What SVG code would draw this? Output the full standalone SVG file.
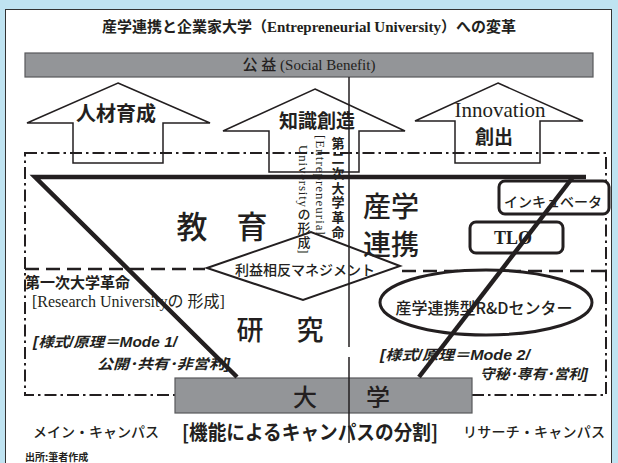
<svg xmlns="http://www.w3.org/2000/svg" width="618" height="463" viewBox="0 0 618 463">
<style>
.jp{font-family:"Noto Sans CJK JP","Noto Sans",sans-serif;fill:#231f20}
.mix{font-family:"Liberation Serif","Noto Sans CJK JP",serif;fill:#231f20}
.sans{font-family:"Liberation Sans","Noto Sans CJK JP",sans-serif;fill:#231f20}
.c{text-anchor:middle;dominant-baseline:central}
.l{dominant-baseline:central}
.vt{writing-mode:vertical-rl}
.b{font-weight:bold}
.m{font-weight:500}
.blk{fill:#fff;stroke:#231f20;stroke-width:1.5}
.thick{fill:none;stroke:#231f20;stroke-width:4.5}
.thin{fill:none;stroke:#231f20;stroke-width:1.5}
.dd{fill:none;stroke:#231f20;stroke-width:2;stroke-dasharray:12 4 2.5 4}
.dash{fill:none;stroke:#231f20;stroke-width:2.5;stroke-dasharray:14 7}
.rbox{fill:#fff;stroke:#231f20;stroke-width:3}
.gray{fill:#939598;stroke:#58595b;stroke-width:1.2}
.mode{font-style:italic;font-weight:bold;font-size:14px}
</style>
<rect width="618" height="463" fill="#bfe3f1"/>
<rect x="5.5" y="9.5" width="606" height="460" fill="#fff" stroke="#333" stroke-width="1"/>

<g id="title">
<text class="mix c b" x="309" y="26.5" font-size="15">産学連携と企業家大学（Entrepreneurial University）への変革</text>
</g>

<g id="social-benefit">
<rect class="gray" x="25" y="53" width="568" height="24"/>
<text class="mix c m" x="309" y="65" font-size="15">公 益 (Social Benefit)</text>
</g>

<g id="arrow-jinzai">
<path class="blk" d="M118,83 L210,123 L163,123 L163,163 L73,163 L73,123 L27,123 Z"/>
<text class="jp c b" x="116" y="112" font-size="20">人材育成</text>
</g>

<g id="arrow-chishiki">
<path class="blk" d="M315,89 L405,131 L359,131 L359,172 L269,172 L269,131 L223,131 Z"/>
<text class="jp c b" x="317" y="119" font-size="19">知識創造</text>
</g>

<g id="arrow-innovation">
<path class="blk" d="M498,83 L583,121 L540,121 L540,163 L455,163 L455,121 L415,121 Z"/>
<text class="mix c" x="500" y="110" font-size="21">Innovation</text>
<text class="jp c b" x="494" y="135" font-size="19">創出</text>
</g>

<g id="connectors">
<rect class="dd" x="25" y="153" width="581" height="242"/>
<path class="dash" d="M25,269 L205,269"/>
<path class="dash" d="M402,271 L606,271"/>
</g>

<g id="daigaku">
<rect class="gray" x="175" y="378" width="297" height="35"/>
<text class="jp c m" x="305" y="395" font-size="24">大</text>
<text class="jp c m" x="378" y="395" font-size="24">学</text>
</g>

<g id="incubator">
<rect class="rbox" x="499" y="181" width="110" height="33" rx="6"/>
<text class="jp c m" x="553" y="201" font-size="14">インキュベータ</text>
</g>

<g id="tlo">
<rect class="rbox" x="470" y="222" width="93" height="31" rx="6"/>
<text class="mix c b" x="513" y="238" font-size="18">TLO</text>
</g>

<g id="rd-center">
<ellipse class="rbox" cx="486" cy="302.5" rx="106" ry="32.5"/>
<text class="jp c m" x="484" y="306.5" font-size="16">産学連携型R&amp;Dセンター</text>
</g>

<g id="conflict">
<polygon points="207,268 311,232 400,266 303,300" fill="#fff" stroke="#231f20" stroke-width="2"/>
<text class="jp c m" x="305" y="268.5" font-size="14">利益相反マネジメント</text>
</g>

<g id="second-revolution">
<text class="jp vt b" x="338" y="137" font-size="13" letter-spacing="1.7">第二次大学革命</text>
<text class="mix vt m" x="320" y="135" font-size="13" letter-spacing="1">[Entrepreneurial</text>
<text class="mix vt m" x="303" y="145" font-size="13" letter-spacing="0.8">Universityの形成]</text>
</g>

<g id="frame-lines">
<path class="thick" d="M237,377 L35,177 L586,177"/>
<path class="thick" d="M573,177 L419,377"/>
<path class="thin" d="M349,77 L349,347 M349,357 L349,443"/>
</g>

<g id="kyoiku">
<text class="jp c m" x="192" y="224.5" font-size="31">教</text>
<text class="jp c m" x="252" y="224.5" font-size="31">育</text>
</g>

<g id="sangaku">
<text class="jp c m" x="391" y="205" font-size="28">産学</text>
<text class="jp c m" x="391" y="243" font-size="28">連携</text>
</g>

<g id="kenkyu">
<text class="jp c m" x="250" y="328" font-size="27">研</text>
<text class="jp c m" x="310" y="328" font-size="27">究</text>
</g>

<g id="first-revolution">
<text class="jp l b" x="25" y="281" font-size="15">第一次大学革命</text>
<text class="mix l" x="32" y="301.5" font-size="16">[Research Universityの 形成]</text>
</g>

<g id="mode1">
<text class="sans l mode" x="33" y="342" textLength="144" lengthAdjust="spacingAndGlyphs">[様式/原理＝Mode 1/</text>
<text class="sans l mode" x="97" y="364" textLength="133" lengthAdjust="spacingAndGlyphs">公開･共有･非営利]</text>
</g>

<g id="mode2">
<text class="sans l mode" x="380" y="355" textLength="150" lengthAdjust="spacingAndGlyphs">[様式/原理＝Mode 2/</text>
<text class="sans l mode" x="480" y="374" textLength="108" lengthAdjust="spacingAndGlyphs">守秘･専有･営利]</text>
</g>

<g id="campus-labels">
<text class="jp l m" x="33" y="431" font-size="14">メイン・キャンパス</text>
<text class="jp l b" x="182" y="431.5" font-size="20" textLength="256" lengthAdjust="spacingAndGlyphs">[機能によるキャンパスの分割]</text>
<text class="jp l m" x="463" y="431" font-size="14" textLength="142">リサーチ・キャンパス</text>
</g>

<g id="source">
<text class="jp l b" x="25" y="456" font-size="10">出所:筆者作成</text>
</g>
</svg>
